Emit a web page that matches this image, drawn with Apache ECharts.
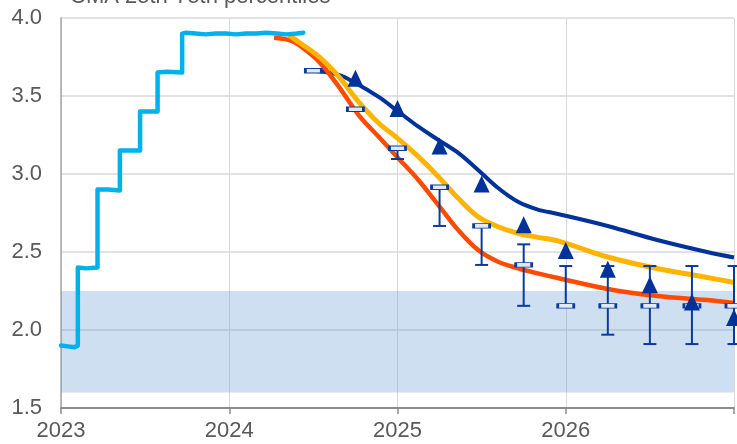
<!DOCTYPE html>
<html>
<head>
<meta charset="utf-8">
<script src="https://cdn.jsdelivr.net/npm/echarts@6/dist/echarts.min.js"></script>
<style>html,body{margin:0;padding:0;background:#fff}#c{width:737px;height:444px}</style>
</head>
<body>
<div id="c"></div>
<script>
// ---- data ----
const titleText = 'CMA 25th-75th percentiles';
const xTicks = [2023, 2024, 2025, 2026, 2027];
const yTicks = [1.5, 2.0, 2.5, 3.0, 3.5, 4.0];
const bandLow = 1.6;
const bandHigh = 2.25;

// realised short-term rate (step line)
const estr = [
  [2023.00,1.90],[2023.04,1.895],[2023.08,1.89],[2023.10,1.90],
  [2023.10,2.40],[2023.15,2.395],[2023.217,2.40],
  [2023.217,2.90],[2023.28,2.90],[2023.35,2.895],
  [2023.35,3.15],[2023.41,3.15],[2023.47,3.15],
  [2023.47,3.40],[2023.52,3.40],[2023.574,3.40],
  [2023.574,3.65],[2023.63,3.655],[2023.72,3.65],
  [2023.72,3.90],[2023.74,3.905],[2023.80,3.90],[2023.86,3.895],[2023.92,3.90],
  [2023.98,3.90],[2024.04,3.895],[2024.10,3.90],[2024.16,3.90],[2024.22,3.905],
  [2024.28,3.90],[2024.34,3.895],[2024.40,3.90],[2024.44,3.905]
];

// forward curves
const curveDarkBlue = [
  [2024.52,3.66],[2024.651,3.635],[2024.74,3.59],[2024.888,3.494],[2025.006,3.399],
  [2025.124,3.303],[2025.243,3.218],[2025.361,3.135],[2025.479,3.026],[2025.598,2.910],
  [2025.716,2.822],[2025.834,2.772],[2025.953,2.744],[2026.249,2.667],[2026.544,2.577],
  [2026.84,2.50],[2027.00,2.465]
];
const curveYellow = [
  [2024.355,3.89],[2024.414,3.845],[2024.533,3.752],[2024.651,3.624],[2024.769,3.463],
  [2024.888,3.327],[2025.006,3.224],[2025.124,3.111],[2025.243,2.983],[2025.361,2.844],
  [2025.479,2.726],[2025.598,2.662],[2025.716,2.62],[2025.834,2.594],[2025.953,2.571],
  [2026.249,2.468],[2026.544,2.394],[2026.84,2.337],[2027.00,2.304]
];
const curveRed = [
  [2024.266,3.874],[2024.355,3.859],[2024.414,3.827],[2024.533,3.72],[2024.651,3.56],
  [2024.769,3.378],[2024.888,3.239],[2025.006,3.10],[2025.124,2.962],[2025.243,2.801],
  [2025.361,2.641],[2025.479,2.513],[2025.598,2.438],[2025.716,2.396],[2025.834,2.363],
  [2025.953,2.333],[2026.249,2.263],[2026.544,2.218],[2026.84,2.192],[2027.00,2.173]
];

// survey (CMA) median and 25th-75th percentiles
const surveyDates = [2024.5,2024.75,2025.0,2025.25,2025.5,2025.75,2026.0,2026.25,2026.5,2026.75,2027.0];
const surveyMedian = [3.662,3.415,3.165,2.915,2.667,2.417,2.155,2.155,2.155,2.155,2.155];
const surveyLow    = [3.662,3.415,3.096,2.667,2.417,2.155,2.155,1.97,1.91,1.91,1.91];
const surveyHigh   = [3.662,3.415,3.165,2.915,2.667,2.549,2.41,2.41,2.41,2.41,2.41];

// triangles
const triDates = [2024.75,2025.0,2025.25,2025.5,2025.75,2026.0,2026.25,2026.5,2026.75,2027.0];
const triValues = [3.613,3.42,3.18,2.936,2.675,2.51,2.39,2.29,2.18,2.08];

// ---- chart ----
const DB = '#0a3a9c';
const chart = echarts.init(document.getElementById('c'));
const font = 'Liberation Sans, Arial, sans-serif';
chart.setOption({
  animation: false,
  backgroundColor: '#fff',
  grid: {left: 61, right: 0, top: 18, bottom: 36},
  graphic: [{
    type: 'text', left: 70, top: -14, z: 100,
    style: {text: titleText, fill: '#595959', font: '22px ' + font}
  }],
  xAxis: {
    type: 'value', min: xTicks[0], max: xTicks[xTicks.length-1], interval: 1,
    axisLine: {show: true, lineStyle: {color: '#8c8c8c', width: 2}},
    axisTick: {show: true, length: 6, lineStyle: {color: '#8c8c8c', width: 1.5}},
    axisLabel: {
      color: '#595959', fontSize: 22, fontFamily: font, margin: 12,
      formatter: v => (v === xTicks[xTicks.length-1] ? '' : String(v))
    },
    splitLine: {show: true, lineStyle: {color: '#d9d9d9', width: 1}}
  },
  yAxis: {
    type: 'value', min: yTicks[0], max: yTicks[yTicks.length-1], interval: 0.5,
    axisLine: {show: true, lineStyle: {color: '#a6a6a6', width: 1.5}},
    axisTick: {show: false},
    axisLabel: {color: '#595959', fontSize: 22, fontFamily: font, margin: 19,
      formatter: v => v.toFixed(1)},
    splitLine: {show: true, lineStyle: {color: '#d9d9d9', width: 1.5}}
  },
  series: [
    {
      name: 'band', type: 'line', data: [], z: 1, silent: true,
      markArea: {silent: true, itemStyle: {color: 'rgba(90,150,210,0.30)'},
        data: [[{yAxis: bandLow}, {yAxis: bandHigh}]]}
    },
    {
      name: 'dark', type: 'line', data: curveDarkBlue, smooth: 0.35, showSymbol: false, z: 2,
      lineStyle: {color: '#003299', width: 4}
    },
    {
      name: 'red', type: 'line', data: curveRed, smooth: 0.35, showSymbol: false, z: 3,
      lineStyle: {color: '#ff4b00', width: 4.5}
    },
    {
      name: 'yellow', type: 'line', data: curveYellow, smooth: 0.35, showSymbol: false, z: 4,
      lineStyle: {color: '#ffb400', width: 5}
    },
    {
      name: 'estr', type: 'line', data: estr, showSymbol: false, z: 5,
      lineStyle: {color: '#00b1ea', width: 4.5, join: 'round', cap: 'round'}
    },
    {
      name: 'range', type: 'custom', z: 6,
      data: surveyDates.map((d, i) => [d, surveyLow[i], surveyHigh[i]]),
      renderItem: function (params, api) {
        const x = api.value(0), lo = api.value(1), hi = api.value(2);
        if (hi - lo < 1e-6) return null;
        const a = api.coord([x, lo]), b = api.coord([x, hi]);
        const w = 6.5;
        const st = {stroke: DB, lineWidth: 2};
        return {type: 'group', children: [
          {type: 'line', shape: {x1: a[0], y1: a[1], x2: b[0], y2: b[1]}, style: st},
          {type: 'line', shape: {x1: a[0]-w, y1: a[1], x2: a[0]+w, y2: a[1]}, style: st},
          {type: 'line', shape: {x1: b[0]-w, y1: b[1], x2: b[0]+w, y2: b[1]}, style: st}
        ]};
      }
    },
    {
      name: 'median', type: 'scatter', z: 7,
      data: surveyDates.map((d, i) => [d, surveyMedian[i]]),
      symbol: 'rect', symbolSize: [16, 4.5],
      itemStyle: {color: '#dfe9f8', borderColor: DB, borderWidth: 1.5, opacity: 1}
    },
    {
      name: 'tri', type: 'scatter', z: 8,
      data: triDates.map((d, i) => [d, triValues[i]]),
      symbol: 'triangle', symbolSize: [16, 17],
      itemStyle: {color: '#003299', opacity: 1}
    }
  ]
});
</script>
</body>
</html>
